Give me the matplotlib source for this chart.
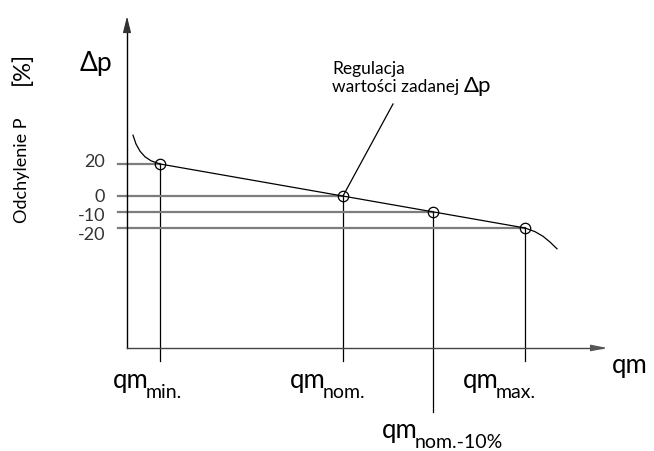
import matplotlib.pyplot as plt

plt.rcParams['font.family'] = ['Lato', 'DejaVu Sans']

# punkty pracy: położenie na osi qm (jedn. umowne) i odchylenie Δp [%]
qm_pos = [33, 216, 306, 398]
dp_vals = [20, 0, -10, -20]
dp_labels = ['20', '0', '-10', '-20']
qm_subs = ['min.', 'nom.', 'nom.-10%', 'max.']

# zakrzywione końcówki charakterystyki
left_tail_x = [6, 9, 13, 18, 24, 33]
left_tail_y = [38, 32.5, 28, 24.5, 22, 20]
right_tail_x = [398, 408, 416, 423, 430]
right_tail_y = [-20, -22.3, -25.2, -28.8, -33]

fig = plt.figure(figsize=(6.54, 4.51), dpi=100)
ax = fig.add_axes([0, 0, 1, 1])
ax.set_xlim(-127, 527)
ax.set_ylim(-159.4, 122.5)
ax.axis('off')

# osie z grotami
y0 = -95
ax.plot([0, 0], [y0, 105], color='black', lw=1)
ax.annotate('', xy=(0, 114), xytext=(0, 102),
            arrowprops=dict(arrowstyle='-|>,head_width=0.25,head_length=1.0',
                            color='#333333', lw=0.8))
ax.plot([0, 475], [y0, y0], color='#444444', lw=1)
ax.annotate('', xy=(483, y0), xytext=(467, y0),
            arrowprops=dict(arrowstyle='-|>,head_width=0.2,head_length=1.0',
                            color='#555555', lw=0.8))

# linie pomocnicze
drop = [-103, -103, -135, -103]
for x, y, yb in zip(qm_pos, dp_vals, drop):
    ax.plot([-9, x], [y, y], color='#7d7d7d', lw=1.6, zorder=1)
    ax.plot([x, x], [y, yb], color='black', lw=0.9, zorder=1)

# charakterystyka
ax.plot(left_tail_x, left_tail_y, color='black', lw=0.9)
ax.plot([qm_pos[0], qm_pos[-1]], [dp_vals[0], dp_vals[-1]], color='black', lw=0.9)
ax.plot(right_tail_x, right_tail_y, color='black', lw=0.9)
ax.plot(qm_pos, dp_vals, 'o', ms=7.5, mfc='none', mec='black', mew=0.9, zorder=3)

# opisy osi Y
label_shift = [1.5, -0.5, -2.5, -4.5]
for y, s, d in zip(dp_vals, dp_labels, label_shift):
    ax.text(-22, y + d, s, ha='right', va='center', fontsize=13, color='#333333')

ax.text(-31, 83, 'Δp', ha='center', va='center', fontsize=19)
ax.text(-105, 80, '[%]', ha='center', va='center', fontsize=17, rotation=90)
ax.text(-105, 16, 'Odchylenie P', ha='center', va='center', fontsize=13, rotation=90)

# opisy osi X: "qm" z indeksem dolnym
qm_text_pos = [(-14, -120), (163, -120), (255, -151.5), (336, -120)]
for (tx, ty), sub in zip(qm_text_pos, qm_subs):
    t = ax.text(tx, ty, 'qm', ha='left', va='baseline', fontsize=18.5)
    ax.annotate(sub, xy=(1, ty - 6.3), xycoords=(t, 'data'), xytext=(-2, 0),
                textcoords='offset points', ha='left', va='baseline', fontsize=14)
ax.text(485, -110.6, 'qm', ha='left', va='baseline', fontsize=18.5)

# adnotacja
ax.plot([qm_pos[1], 266], [dp_vals[1], 57.5], color='black', lw=0.9)
ax.text(205, 76, 'Regulacja', ha='left', va='baseline', fontsize=12.5)
t = ax.text(205, 65, 'wartości zadanej', ha='left', va='baseline', fontsize=12.5)
ax.annotate('Δp', xy=(1, 65), xycoords=(t, 'data'), xytext=(3, 0),
            textcoords='offset points', ha='left', va='baseline', fontsize=16)

fig.savefig('out.png', dpi=100)
